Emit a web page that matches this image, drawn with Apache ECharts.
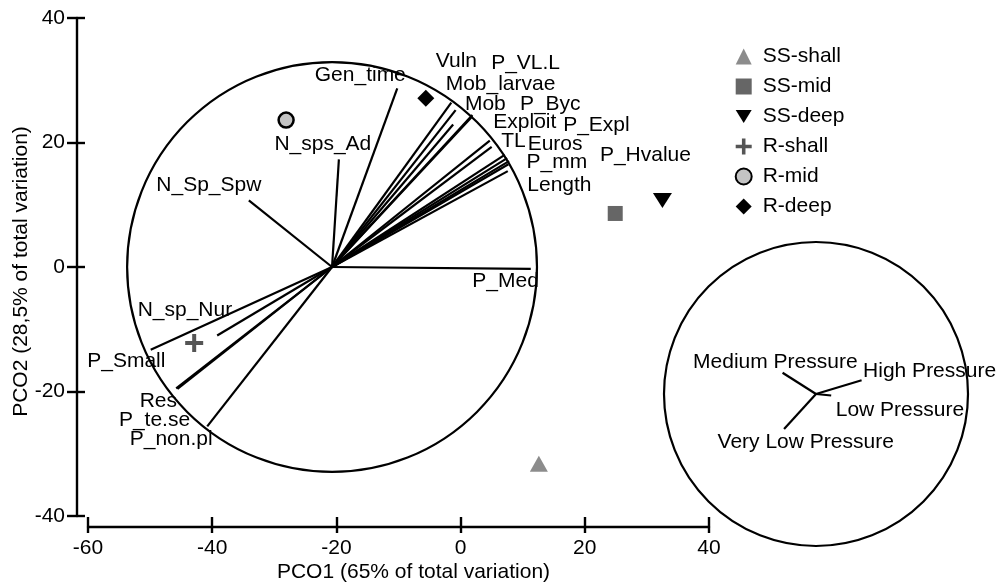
<!DOCTYPE html>
<html>
<head>
<meta charset="utf-8">
<script src="https://cdn.jsdelivr.net/npm/echarts@6/dist/echarts.min.js"></script>
<style>
  html, body { margin: 0; padding: 0; background: #fff; }
  #chart { width: 1006px; height: 587px; }
</style>
</head>
<body>
<div id="chart"></div>
<script>
// Axis ticks
const xTicks = [-60, -40, -20, 0, 20, 40];
const yTicks = [-40, -20, 0, 20, 40];

// Group centroids on PCO1 / PCO2
const groupNames = ['SS-shall', 'SS-mid', 'SS-deep', 'R-shall', 'R-mid', 'R-deep'];
const groupPCO1 = [12.6, 24.9, 32.5, -42.9, -28.1, -5.6];
const groupPCO2 = [-31.6, 8.6, 10.7, -12.2, 23.6, 27.1];

// Trait vectors (tips) drawn from the circle centre
const vectorOrigin = [-20.7, 0];
const circleRadius = 33;
const traitNames = ['Vuln', 'P_VL.L', 'Mob_larvae', 'Mob', 'P_Byc', 'Exploit', 'P_Expl', 'TL', 'Euros', 'P_mm', 'P_Hvalue', 'Length',
  'Gen_time', 'N_sps_Ad', 'N_Sp_Spw', 'P_Med', 'N_sp_Nur', 'P_Small', 'Res', 'P_te.se', 'P_non.pl'];
const traitPCO1 = [-1.5, -0.8, -1.2, 1.9, 1.9, 4.7, 5.0, 7.1, 7.5, 7.8, 7.7, 7.6,
  -10.2, -19.6, -34.1, 11.3, -39.2, -49.9, -45.8, -45.6, -40.8];
const traitPCO2 = [26.4, 25.2, 22.9, 24.4, 24.2, 20.3, 19.3, 18.0, 17.5, 17.0, 16.5, 15.4,
  28.7, 17.3, 10.7, -0.3, -11.0, -13.3, -19.5, -19.6, -25.6];

// Pressure vectors inside a unit circle
const pressureNames = ['Medium Pressure', 'High Pressure', 'Low Pressure', 'Very Low Pressure'];
const pressureX = [-0.22, 0.30, 0.10, -0.21];
const pressureY = [0.14, 0.09, -0.01, -0.23];

// ---- layout / style ----
const FONT = '"Liberation Sans", Arial, Helvetica, sans-serif';
const FS = 21;

// label placement relative to each vector tip (px: left edge, vertical middle)
const traitLabelOffset = {
  'Vuln': [-16, -41], 'P_VL.L': [35, -47], 'Mob_larvae': [-8, -40], 'Mob': [-8, -11],
  'P_Byc': [47, -12], 'Exploit': [3, -18], 'P_Expl': [71, -22], 'TL': [-4, -14],
  'Euros': [20, -14], 'P_mm': [17, 1], 'P_Hvalue': [91, -9], 'Length': [19, 14],
  'Gen_time': [-83, -13], 'N_sps_Ad': [-65, -15], 'N_Sp_Spw': [-93, -15], 'P_Med': [-59, 12],
  'N_sp_Nur': [-80, -25], 'P_Small': [-64, 11], 'Res': [-37, 13], 'P_te.se': [-59, 31],
  'P_non.pl': [-78, 13]
};
const pressureLabelOffset = {
  'Medium Pressure': [-90, -11], 'High Pressure': [1, -9],
  'Low Pressure': [4, 15], 'Very Low Pressure': [-67, 13]
};

const groupStyle = {
  'SS-shall': { symbol: 'triangle', symbolSize: [18, 16], color: '#8c8c8c' },
  'SS-mid':   { symbol: 'rect', symbolSize: 15, color: '#666666' },
  'SS-deep':  { symbol: 'path://M0,0 L20,0 L10,16 Z', symbolSize: [19, 15], color: '#000000' },
  'R-shall':  { symbol: 'path://M7,0 H11 V7 H18 V11 H11 V18 H7 V11 H0 V7 H7 Z', symbolSize: 18, color: '#555555' },
  'R-mid':    { symbol: 'circle', symbolSize: 15, color: '#c4c4c4', borderColor: '#000', borderWidth: 2.5 },
  'R-deep':   { symbol: 'diamond', symbolSize: 17, color: '#000000' }
};

const chart = echarts.init(document.getElementById('chart'), null, { renderer: 'canvas' });

function circleRender(params, api) {
  const c = api.coord([api.value(0), api.value(1)]);
  const r = api.size([api.value(2), 0])[0];
  return {
    type: 'circle',
    shape: { cx: c[0], cy: c[1], r: r },
    style: { fill: 'none', stroke: '#000', lineWidth: 2.2 }
  };
}

function vectorLabel(n, offset) {
  return {
    show: true, position: 'right', distance: 0,
    offset: offset, formatter: n,
    color: '#000', fontSize: FS, fontFamily: FONT,
    textBorderWidth: 0, opacity: 1
  };
}

const tickStyle = { color: '#000', width: 2.4 };
const labelStyle = { color: '#000', fontSize: FS, fontFamily: FONT };

const series = [];

// correlation circle
series.push({
  type: 'custom', xAxisIndex: 0, yAxisIndex: 0, silent: true, z: 1,
  renderItem: circleRender,
  data: [[vectorOrigin[0], vectorOrigin[1], circleRadius]]
});

// trait vectors
series.push({
  type: 'lines', coordinateSystem: 'cartesian2d', xAxisIndex: 0, yAxisIndex: 0, silent: true, z: 2,
  lineStyle: { color: '#000', width: 2.2, opacity: 1, curveness: 0 },
  data: traitNames.map((n, i) => ({ coords: [vectorOrigin, [traitPCO1[i], traitPCO2[i]]] }))
});

// trait labels
series.push({
  type: 'scatter', xAxisIndex: 0, yAxisIndex: 0, silent: true, z: 3,
  symbolSize: 1, itemStyle: { color: 'rgba(0,0,0,0)' },
  data: traitNames.map((n, i) => ({
    value: [traitPCO1[i], traitPCO2[i]], name: n,
    label: vectorLabel(n, traitLabelOffset[n])
  }))
});

// group centroids
groupNames.forEach((g, i) => {
  const s = groupStyle[g];
  series.push({
    name: g, type: 'scatter', xAxisIndex: 0, yAxisIndex: 0, z: 4,
    symbol: s.symbol, symbolSize: s.symbolSize,
    itemStyle: { color: s.color, borderColor: s.borderColor || s.color, borderWidth: s.borderWidth || 0, opacity: 1 },
    data: [[groupPCO1[i], groupPCO2[i]]]
  });
});

// pressure circle, vectors and labels
series.push({
  type: 'custom', xAxisIndex: 2, yAxisIndex: 2, silent: true, z: 1,
  renderItem: circleRender, data: [[0, 0, 1]]
});
series.push({
  type: 'lines', coordinateSystem: 'cartesian2d', xAxisIndex: 2, yAxisIndex: 2, silent: true, z: 2,
  lineStyle: { color: '#000', width: 2.2, opacity: 1, curveness: 0 },
  data: pressureNames.map((n, i) => ({ coords: [[0, 0], [pressureX[i], pressureY[i]]] }))
});
series.push({
  type: 'scatter', xAxisIndex: 2, yAxisIndex: 2, silent: true, z: 3,
  symbolSize: 1, itemStyle: { color: 'rgba(0,0,0,0)' },
  data: pressureNames.map((n, i) => ({
    value: [pressureX[i], pressureY[i]], name: n,
    label: vectorLabel(n, pressureLabelOffset[n])
  }))
});

const option = {
  animation: false,
  backgroundColor: '#fff',
  textStyle: { fontFamily: FONT, color: '#000' },
  grid: [
    { left: 88, right: 297, top: 18, bottom: 71, outerBoundsMode: 'none', containLabel: false },
    { left: 664, top: 242, width: 304, height: 304, outerBoundsMode: 'none', containLabel: false }
  ],
  legend: {
    orient: 'vertical', left: 734.7, top: 46, padding: 0,
    itemWidth: 16, itemHeight: 16, itemGap: 9,
    textStyle: { color: '#000', fontSize: FS, fontFamily: FONT, lineHeight: 21, padding: [0, 0, 0, 6] },
    data: groupNames
  },
  xAxis: [
    {
      type: 'value', gridIndex: 0, position: 'bottom', offset: 11,
      min: xTicks[0], max: xTicks[xTicks.length - 1], interval: xTicks[1] - xTicks[0],
      axisLine: { show: true, onZero: false, lineStyle: tickStyle },
      splitLine: { show: false },
      axisTick: { show: true, inside: false, length: 6, lineStyle: tickStyle },
      axisLabel: Object.assign({ margin: 11 }, labelStyle),
      name: 'PCO1 (65% of total variation)', nameLocation: 'middle', nameGap: 35,
      nameMoveOverlap: false,
      nameTextStyle: Object.assign({ padding: [0, 0, 0, 30] }, labelStyle)
    },
    {
      type: 'value', gridIndex: 0, position: 'bottom', offset: 11,
      min: xTicks[0], max: xTicks[xTicks.length - 1], interval: xTicks[1] - xTicks[0],
      axisLine: { show: false, onZero: false }, axisLabel: { show: false }, splitLine: { show: false },
      axisTick: { show: true, inside: true, length: 10, lineStyle: tickStyle }
    },
    { type: 'value', gridIndex: 1, min: -1, max: 1, show: false }
  ],
  yAxis: [
    {
      type: 'value', gridIndex: 0, position: 'left', offset: 11,
      min: yTicks[0], max: yTicks[yTicks.length - 1], interval: yTicks[1] - yTicks[0],
      axisLine: { show: true, onZero: false, lineStyle: tickStyle },
      splitLine: { show: false },
      axisTick: { show: true, inside: false, length: 10, lineStyle: tickStyle },
      axisLabel: Object.assign({ margin: 12 }, labelStyle),
      name: 'PCO2 (28,5% of total variation)', nameLocation: 'middle', nameGap: 45,
      nameMoveOverlap: false,
      nameTextStyle: Object.assign({ padding: [0, 9, 0, 0] }, labelStyle)
    },
    {
      type: 'value', gridIndex: 0, position: 'left', offset: 11,
      min: yTicks[0], max: yTicks[yTicks.length - 1], interval: yTicks[1] - yTicks[0],
      axisLine: { show: false, onZero: false }, axisLabel: { show: false }, splitLine: { show: false },
      axisTick: { show: true, inside: true, length: 8, lineStyle: tickStyle }
    },
    { type: 'value', gridIndex: 1, min: -1, max: 1, show: false }
  ],
  series: series
};

chart.setOption(option);
</script>
</body>
</html>
